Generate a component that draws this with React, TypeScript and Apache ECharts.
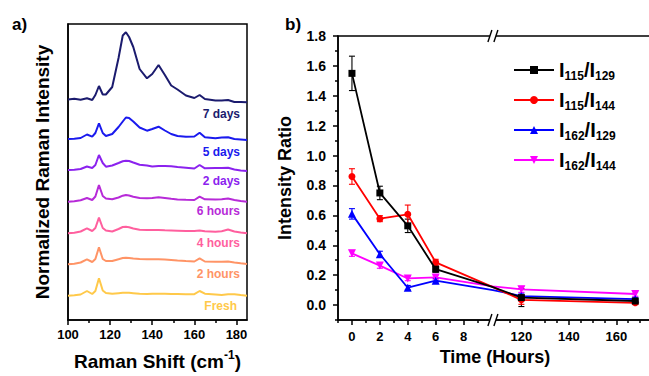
import React, { useEffect, useRef } from 'react';
import * as echarts from 'echarts';

// ---------- Panel a: Raman spectra (stacked, arbitrary offset units) ----------
const ramanShift = [100, 103, 106, 109, 111.5, 113, 114.7, 116.5, 118, 121, 124, 126, 127.5, 129, 131, 134, 137.5, 140, 143, 146, 149, 152, 156, 160, 162.5, 165, 170, 173, 176, 179, 182, 185];

const spectrum7Days = [220.5, 221.2, 220.3, 221.7, 220, 225, 234, 225.5, 225.5, 233, 262, 284.5, 287.7, 283, 273, 251, 241.7, 246, 255, 245, 234.5, 230.5, 224.5, 222, 225, 221, 219.5, 219.5, 220, 218, 218, 217.7];
const spectrum5Days = [181, 181.3, 182, 185.5, 183.3, 187, 196.7, 187, 184, 186, 193, 198.5, 202.5, 202, 198.5, 192.5, 189.3, 191, 193.3, 189.5, 186, 184, 183.3, 183.5, 187.3, 182.7, 181.7, 182.5, 182.8, 181, 180.5, 180];
const spectrum2Days = [150, 150.3, 151, 153.5, 152, 155, 165, 157, 153.3, 154.5, 157, 158.7, 159.3, 159, 157.5, 155.3, 154.5, 153.5, 154, 154, 153.8, 153, 152.3, 151.5, 155, 151.7, 152, 152, 152.3, 150.5, 149.5, 149];
const spectrum6Hours = [118.3, 118.8, 119.8, 122, 120, 123.5, 135, 124, 121.5, 120.8, 122.5, 124.3, 125, 124.5, 123.3, 122, 121.8, 122, 122.7, 122, 121.2, 120.5, 120.2, 120, 123.3, 120.7, 120.5, 120.7, 121.5, 120, 119, 118.3];
const spectrum4Hours = [86.7, 87.2, 88.5, 91.7, 89, 92, 102.3, 92, 89.5, 88.5, 91, 93, 93.3, 92.8, 91.5, 90.2, 90, 90, 90, 89.7, 89.5, 89.3, 89, 89, 89.6, 88.8, 88.3, 88.8, 90.5, 88.5, 87.5, 86.7];
const spectrum2Hours = [55.7, 56.2, 57.5, 60.7, 58, 61, 72.7, 61, 59, 59, 60.8, 62, 62.3, 62, 61.5, 61, 60.7, 60.7, 60.7, 60.4, 60.1, 59.6, 59, 58.5, 61.7, 58.5, 58.3, 58.3, 58.5, 57.5, 56.7, 56];
const spectrumFresh = [24.3, 24.7, 25.5, 29, 26, 29, 41.7, 29.5, 27, 26.2, 26.8, 27.2, 27.3, 27.2, 26.8, 26.2, 26, 26.2, 26.3, 26.2, 26, 26, 25.8, 25.8, 29, 26.3, 25.5, 25, 25.7, 25.8, 25, 24.3];

const spectrumNames = ['7 days', '5 days', '2 days', '6 hours', '4 hours', '2 hours', 'Fresh'];
const spectrumValues = [spectrum7Days, spectrum5Days, spectrum2Days, spectrum6Hours, spectrum4Hours, spectrum2Hours, spectrumFresh];
const spectrumColors = ['#1b1b6e', '#1a1aee', '#8b22ee', '#b72ad8', '#ff5f9e', '#ff9466', '#ffc94a'];
const spectrumLabelY = [114, 152, 181, 211, 243, 274, 306];

const ramanTicks = [100, 120, 140, 160, 180];
const ramanMinorTicks = [110, 130, 150, 170];

// ---------- Panel b: intensity ratios ----------
const timeHours = [0, 2, 4, 6, 24, 120, 168];
const ratio115_129 = [1.55, 0.75, 0.53, 0.24, 0.12, 0.05, 0.027];
const ratio115_144 = [0.86, 0.578, 0.607, 0.286, 0.12, 0.035, 0.015];
const ratio162_129 = [0.61, 0.34, 0.116, 0.163, 0.1, 0.06, 0.04];
const ratio162_144 = [0.346, 0.264, 0.178, 0.185, 0.125, 0.105, 0.074];
const error115_129 = [0.115, 0.045, 0.045, 0.02, null, 0.06, 0.012];
const error115_144 = [0.052, 0.02, 0.062, 0.02, null, 0.03, 0.012];
const error162_129 = [0.035, 0.02, 0.015, 0.015, null, 0.02, 0.012];
const error162_144 = [0.02, 0.018, 0.015, 0.015, null, 0.02, 0.015];

const ratioNames = ['I115/I129', 'I115/I144', 'I162/I129', 'I162/I144'];
const ratioValues = [ratio115_129, ratio115_144, ratio162_129, ratio162_144];
const ratioErrors = [error115_129, error115_144, error162_129, error162_144];
const ratioColors = ['#000000', '#ff0000', '#0000ff', '#ff00ff'];
const ratioSymbols = ['rect', 'circle', 'triangle', 'path://M0,0L10,0L5,9Z'];

const ratioTicks = [0, 0.2, 0.4, 0.6, 0.8, 1.0, 1.2, 1.4, 1.6, 1.8];
const ratioMinorTicks = [-0.1, 0.1, 0.3, 0.5, 0.7, 0.9, 1.1, 1.3, 1.5, 1.7];
const timeTicks = [0, 2, 4, 6, 8, 120, 140, 160];
const timeMinorTicks = [-1, 1, 3, 5, 7, 9, 115, 125, 130, 135, 145, 150, 155, 165, 170];

// broken time axis: 0..10.1 h at full scale, 108.. h compressed
const BREAK_START = 10.1;
const BREAK_END = 108;
const SEG2_SCALE = 0.17;
const toAxis = (h: number) => {
  if (h <= BREAK_START) return h;
  if (h >= BREAK_END) return BREAK_START + (h - BREAK_END) * SEG2_SCALE;
  return BREAK_START;
};

const FONT = 'Liberation Sans, Arial, Helvetica, sans-serif';

const GRID_A = { left: 68, top: 24, width: 179, height: 296 };
const GRID_B = { left: 338, top: 36, width: 314, height: 284 };
const XB_MIN = -1;
const XB_MAX = 21.5;

export default function App() {
  const ref = useRef<HTMLDivElement>(null);

  useEffect(() => {
    const chart = echarts.init(ref.current!, null, { renderer: 'svg' });

    const timeTickU = timeTicks.map(toAxis);
    const timeMinorU = timeMinorTicks.map(toAxis);

    const tickStyle = { color: '#000', width: 1.5 };
    const lblStyle = { color: '#000', fontFamily: FONT, fontWeight: 'bold' as const, fontSize: 13 };

    const spectraSeries = spectrumValues.map((vals, i) => ({
      type: 'line',
      name: spectrumNames[i],
      xAxisIndex: 0,
      yAxisIndex: 0,
      data: ramanShift.map((r, j) => [r, vals[j]]),
      showSymbol: false,
      symbol: 'none',
      lineStyle: { color: spectrumColors[i], width: 2 },
      itemStyle: { color: spectrumColors[i] },
      silent: true,
      z: 3,
    }));

    const ratioSeries = ratioValues.map((vals, i) => ({
      type: 'line',
      name: ratioNames[i],
      xAxisIndex: 2,
      yAxisIndex: 1,
      data: timeHours.map((h, j) => {
        const item: any = { value: [toAxis(h), vals[j]] };
        if (h > BREAK_START && h < BREAK_END) item.symbol = 'none';
        return item;
      }),
      symbol: ratioSymbols[i],
      symbolSize: i >= 2 ? 8 : 7,
      lineStyle: { color: ratioColors[i], width: 1.8 },
      itemStyle: { color: ratioColors[i] },
      z: 4 - i + 3,
    }));

    const errorSeries = ratioValues.map((vals, i) => ({
      type: 'custom',
      name: ratioNames[i] + ' error',
      xAxisIndex: 2,
      yAxisIndex: 1,
      silent: true,
      z: 3,
      encode: { x: 0, y: [1, 2] },
      data: timeHours
        .map((h, j) => (ratioErrors[i][j] == null ? null : [toAxis(h), vals[j] - (ratioErrors[i][j] as number), vals[j] + (ratioErrors[i][j] as number)]))
        .filter((d) => d !== null),
      renderItem: (params: any, api: any) => {
        const lo = api.coord([api.value(0), api.value(1)]);
        const hi = api.coord([api.value(0), api.value(2)]);
        const style = { stroke: ratioColors[i], lineWidth: 1.1 };
        return {
          type: 'group',
          children: [
            { type: 'line', shape: { x1: lo[0], y1: lo[1], x2: hi[0], y2: hi[1] }, style },
            { type: 'line', shape: { x1: lo[0] - 3, y1: lo[1], x2: lo[0] + 3, y2: lo[1] }, style },
            { type: 'line', shape: { x1: hi[0] - 3, y1: hi[1], x2: hi[0] + 3, y2: hi[1] }, style },
          ],
        };
      },
    }));

    const breakX = GRID_B.left + (BREAK_START - XB_MIN) * (GRID_B.width / (XB_MAX - XB_MIN));
    const breakMarks = (y: number) => [
      { type: 'rect', z: 100, shape: { x: breakX - 3, y: y - 3, width: 6, height: 6 }, style: { fill: '#fff' } },
      { type: 'line', z: 101, shape: { x1: breakX - 5, y1: y + 6, x2: breakX - 1, y2: y - 6 }, style: { stroke: '#000', lineWidth: 1.4 } },
      { type: 'line', z: 101, shape: { x1: breakX + 1, y1: y + 6, x2: breakX + 5, y2: y - 6 }, style: { stroke: '#000', lineWidth: 1.4 } },
    ];

    const spectrumLabels = spectrumNames.map((n, i) => ({
      type: 'text',
      z: 50,
      style: {
        text: n,
        x: i === 6 ? 237 : 240,
        y: spectrumLabelY[i],
        fill: spectrumColors[i],
        font: `bold 12px ${FONT}`,
        align: 'right',
        textAlign: 'right',
        verticalAlign: 'middle',
        textVerticalAlign: 'middle',
      },
    }));

    const legendFormatter = (name: string) => name.replace(/I(\d+)/g, '{b|I}{s|$1}');

    const option: any = {
      animation: false,
      backgroundColor: '#fff',
      grid: [
        { ...GRID_A, show: true, borderColor: '#000', borderWidth: 1.5, containLabel: false, outerBoundsMode: 'none' },
        { ...GRID_B, show: true, borderColor: '#000', borderWidth: 1.5, containLabel: false, outerBoundsMode: 'none' },
      ],
      xAxis: [
        {
          gridIndex: 0, type: 'value', min: 100, max: 185, position: 'bottom',
          axisLine: { show: true, onZero: false, lineStyle: tickStyle },
          axisTick: { show: true, inside: false, length: 5, customValues: ramanTicks, lineStyle: tickStyle },
          axisLabel: { show: true, customValues: ramanTicks, margin: 8, ...lblStyle },
          splitLine: { show: false },
          name: '{n|Raman Shift (cm}{sup|-1}{n|)}',
          nameLocation: 'middle',
          nameGap: 29,
          nameTextStyle: {
            color: '#000', fontFamily: FONT, fontWeight: 'bold', fontSize: 19,
            rich: {
              n: { color: '#000', fontFamily: FONT, fontWeight: 'bold', fontSize: 19, lineHeight: 24 },
              sup: { color: '#000', fontFamily: FONT, fontWeight: 'bold', fontSize: 12, lineHeight: 12, verticalAlign: 'top' },
            },
          },
        },
        {
          gridIndex: 0, type: 'value', min: 100, max: 185, position: 'bottom',
          axisLine: { show: false, onZero: false },
          axisTick: { show: true, inside: false, length: 3, customValues: ramanMinorTicks, lineStyle: tickStyle },
          axisLabel: { show: false },
          splitLine: { show: false },
        },
        {
          gridIndex: 1, type: 'value', min: XB_MIN, max: XB_MAX, position: 'bottom',
          axisLine: { show: true, onZero: false, lineStyle: tickStyle },
          axisTick: { show: true, inside: false, length: 5, customValues: timeTickU, lineStyle: tickStyle },
          axisLabel: {
            show: true, customValues: timeTickU, margin: 10, ...lblStyle,
            formatter: (v: number) => {
              const k = timeTickU.findIndex((u) => Math.abs(u - v) < 1e-6);
              return k >= 0 ? String(timeTicks[k]) : '';
            },
          },
          splitLine: { show: false },
          name: 'Time (Hours)',
          nameLocation: 'middle',
          nameGap: 27,
          nameTextStyle: { color: '#000', fontFamily: FONT, fontWeight: 'bold', fontSize: 18, lineHeight: 18 },
        },
        {
          gridIndex: 1, type: 'value', min: XB_MIN, max: XB_MAX, position: 'bottom',
          axisLine: { show: false, onZero: false },
          axisTick: { show: true, inside: false, length: 3, customValues: timeMinorU, lineStyle: tickStyle },
          axisLabel: { show: false },
          splitLine: { show: false },
        },
      ],
      yAxis: [
        {
          gridIndex: 0, type: 'value', min: 0, max: 296, position: 'left',
          axisLine: { show: true, onZero: false, lineStyle: tickStyle },
          axisTick: { show: false },
          axisLabel: { show: false },
          splitLine: { show: false },
          name: 'Normalized Raman Intensity',
          nameLocation: 'middle',
          nameGap: 16,
          nameTextStyle: { color: '#000', fontFamily: FONT, fontWeight: 'bold', fontSize: 19, lineHeight: 19 },
        },
        {
          gridIndex: 1, type: 'value', min: -0.1, max: 1.8, position: 'left',
          axisLine: { show: true, onZero: false, lineStyle: tickStyle },
          axisTick: { show: true, inside: false, length: 5, customValues: ratioTicks, lineStyle: tickStyle },
          axisLabel: { show: true, customValues: ratioTicks, margin: 12, ...lblStyle, fontSize: 14, formatter: (v: number) => v.toFixed(1) },
          splitLine: { show: false },
          name: 'Intensity Ratio',
          nameLocation: 'middle',
          nameGap: 44,
          nameTextStyle: { color: '#000', fontFamily: FONT, fontWeight: 'bold', fontSize: 18, lineHeight: 18 },
        },
        {
          gridIndex: 1, type: 'value', min: -0.1, max: 1.8, position: 'left',
          axisLine: { show: false, onZero: false },
          axisTick: { show: true, inside: false, length: 3, customValues: ratioMinorTicks, lineStyle: tickStyle },
          axisLabel: { show: false },
          splitLine: { show: false },
        },
      ],
      legend: {
        show: true,
        data: ratioNames,
        orient: 'vertical',
        left: 513,
        top: 58,
        padding: 0,
        itemWidth: 40,
        itemHeight: 10,
        itemGap: 6,
        selectedMode: false,
        formatter: legendFormatter,
        textStyle: {
          color: '#000', fontFamily: FONT, fontWeight: 'bold', fontSize: 20, lineHeight: 24,
          rich: {
            b: { color: '#000', fontFamily: FONT, fontWeight: 'bold', fontSize: 20, lineHeight: 24 },
            s: { color: '#000', fontFamily: FONT, fontWeight: 'bold', fontSize: 12, lineHeight: 12, verticalAlign: 'bottom' },
          },
        },
      },
      graphic: [
        { type: 'text', z: 50, style: { text: 'a)', x: 12, y: 24, fill: '#000', font: `bold 17px ${FONT}`, verticalAlign: 'middle', textVerticalAlign: 'middle' } },
        { type: 'text', z: 50, style: { text: 'b)', x: 285, y: 24, fill: '#000', font: `bold 17px ${FONT}`, verticalAlign: 'middle', textVerticalAlign: 'middle' } },
        ...spectrumLabels,
        ...breakMarks(GRID_B.top),
        ...breakMarks(GRID_B.top + GRID_B.height),
      ],
      series: [...spectraSeries, ...errorSeries, ...ratioSeries],
    };

    chart.setOption(option);
    return () => chart.dispose();
  }, []);

  return (
    <div
      ref={ref}
      style={{ position: 'fixed', left: 0, top: 0, width: 649, height: 376, background: '#fff' }}
    />
  );
}
